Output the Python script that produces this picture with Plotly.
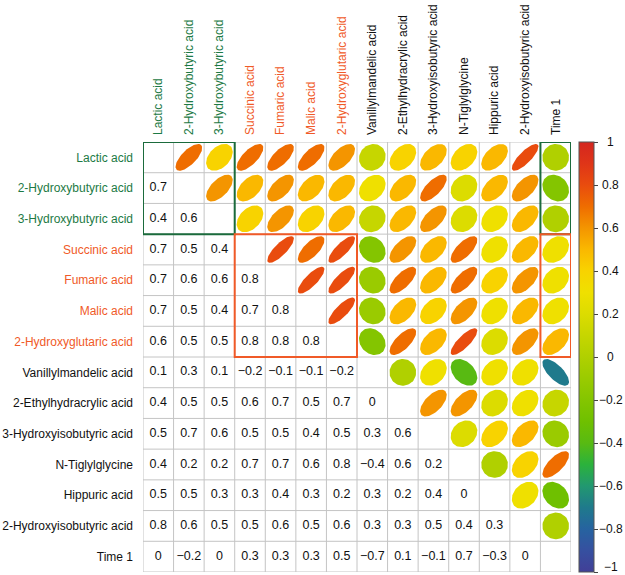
import numpy as np
import plotly.graph_objects as go

labels = ["Lactic acid", "2-Hydroxybutyric acid", "3-Hydroxybutyric acid",
          "Succinic acid", "Fumaric acid", "Malic acid", "2-Hydroxyglutaric acid",
          "Vanillylmandelic acid", "2-Ethylhydracrylic acid", "3-Hydroxyisobutyric acid",
          "N-Tiglylglycine", "Hippuric acid", "2-Hydroxyisobutyric acid", "Time 1"]

# lower triangle of the correlation matrix (row i, columns 0..i-1)
lower = [
    [],
    [0.7],
    [0.4, 0.6],
    [0.7, 0.5, 0.4],
    [0.7, 0.6, 0.6, 0.8],
    [0.7, 0.5, 0.4, 0.7, 0.8],
    [0.6, 0.5, 0.5, 0.8, 0.8, 0.8],
    [0.1, 0.3, 0.1, -0.2, -0.1, -0.1, -0.2],
    [0.4, 0.5, 0.5, 0.6, 0.7, 0.5, 0.7, 0.0],
    [0.5, 0.7, 0.6, 0.5, 0.5, 0.4, 0.5, 0.3, 0.6],
    [0.4, 0.2, 0.2, 0.7, 0.7, 0.6, 0.8, -0.4, 0.6, 0.2],
    [0.5, 0.5, 0.3, 0.3, 0.4, 0.3, 0.2, 0.3, 0.2, 0.4, 0.0],
    [0.8, 0.6, 0.5, 0.5, 0.6, 0.5, 0.6, 0.3, 0.3, 0.5, 0.4, 0.3],
    [0.0, -0.2, 0.0, 0.3, 0.3, 0.3, 0.5, -0.7, 0.1, -0.1, 0.7, -0.3, 0.0],
]

# label groups: (first index, last index, label colour, box colour)
groups = [(0, 2, "#1d7a45", "#1b6b3c"), (3, 6, "#f05a28", "#f05a28")]

cbar_ticks = [-1, -0.8, -0.6, -0.4, -0.2, 0, 0.2, 0.4, 0.6, 0.8, 1]

cs_vals = [-1.0, -0.9, -0.8, -0.7, -0.6, -0.5, -0.4, -0.3, -0.2, -0.1, 0.0,
           0.1, 0.2, 0.3, 0.4, 0.5, 0.6, 0.7, 0.8, 0.9, 1.0]
cs_cols = ["#413f97", "#3650a0", "#2663a0", "#1f7a8c", "#229870", "#2bb23c",
           "#58ba12", "#6fc000", "#84c500", "#9acb00", "#b0d000", "#c6d600",
           "#dcdc00", "#efe000", "#f8d300", "#fab800", "#f49500", "#ef6d00",
           "#e94c0e", "#df3518", "#d4261f"]

n = len(labels)
M = np.eye(n)
for i, row in enumerate(lower):
    for j, v in enumerate(row):
        M[i, j] = v
        M[j, i] = v


def hex2rgb(h):
    h = h.lstrip("#")
    return np.array([int(h[k:k + 2], 16) for k in (0, 2, 4)], dtype=float)


rgb_stops = np.array([hex2rgb(c) for c in cs_cols])


def colour(v):
    r = [np.interp(v, cs_vals, rgb_stops[:, k]) for k in range(3)]
    return "rgb(%d,%d,%d)" % tuple(int(round(c)) for c in r)


def fmt(v):
    s = ("%.1f" % v) if abs(v) > 1e-9 else "0"
    if s.endswith(".0"):
        s = s[:-2]
    return s.replace("-", "\u2212")


colorscale = [[(v + 1) / 2, c] for v, c in zip(cs_vals, cs_cols)]

FONT = "Liberation Sans, Arial, Helvetica, sans-serif"

fig = go.Figure()

# grid lines
gx, gy = [], []
for k in range(n + 1):
    p = k - 0.5
    gx += [-0.5, n - 0.5, None, p, p, None]
    gy += [p, p, None, -0.5, n - 0.5, None]
fig.add_trace(go.Scatter(x=gx, y=gy, mode="lines", line=dict(color="#c4c4c4", width=1),
                         hoverinfo="skip", showlegend=False))

# ellipses in upper triangle
scale = 0.87
t = np.linspace(0, 2 * np.pi, 72)
for i in range(n):
    for j in range(i + 1, n):
        r = M[i, j]
        d = np.arccos(np.clip(r, -1, 1))
        ex = j + scale * np.cos(t + d / 2) / 2
        ey = i - scale * np.cos(t - d / 2) / 2
        c = colour(r)
        fig.add_trace(go.Scatter(x=ex, y=ey, mode="lines", fill="toself", fillcolor=c,
                                 line=dict(width=0, color=c), hoverinfo="skip",
                                 showlegend=False))

# numbers in lower triangle
tx, ty, tt = [], [], []
for i, row in enumerate(lower):
    for j, v in enumerate(row):
        tx.append(j)
        ty.append(i)
        tt.append(fmt(v))
fig.add_trace(go.Scatter(x=tx, y=ty, text=tt, mode="text",
                         textfont=dict(size=12.5, color="#111111", family=FONT),
                         hoverinfo="skip", showlegend=False))

# colourbar carrier
fig.add_trace(go.Scatter(x=[0, 0], y=[0, 0], mode="markers",
                         marker=dict(size=0.1, opacity=0, color=[-1, 1], cmin=-1, cmax=1,
                                     colorscale=colorscale, showscale=True,
                                     colorbar=dict(x=1.0187, xanchor="left", xpad=0, ypad=0,
                                                   len=1.0, lenmode="fraction", y=0.5,
                                                   yanchor="middle", thickness=15,
                                                   title=dict(text="", side="right"),
                                                   outlinecolor="#555555", outlinewidth=1,
                                                   ticks="outside", ticklen=4,
                                                   tickcolor="#444444",
                                                   tickvals=cbar_ticks,
                                                   showticklabels=False)),
                         hoverinfo="skip", showlegend=False))

# colourbar tick labels, centred as in the reference
for v in cbar_ticks:
    fig.add_annotation(x=1.0923, xref="paper", y=(v + 1) / 2, yref="paper",
                       text=fmt(v), showarrow=False, xanchor="center", yanchor="middle",
                       yshift=5 if v == -1 else 0,
                       font=dict(size=12, color="#111111", family=FONT))

# group boxes
for a, b, _, bc in groups:
    fig.add_shape(type="rect", x0=a - 0.5, x1=b + 0.5, y0=a - 0.5, y1=b + 0.5,
                  line=dict(color=bc, width=2), layer="above")
    fig.add_shape(type="rect", x0=n - 1.5, x1=n - 0.5, y0=a - 0.5, y1=b + 0.5,
                  line=dict(color=bc, width=2), layer="above")


def tick_text(k):
    for a, b, lc, _ in groups:
        if a <= k <= b:
            return "<span style='color:%s'>%s</span>" % (lc, labels[k])
    return labels[k]


ticktext = [tick_text(k) for k in range(n)]

fig.update_layout(
    width=625, height=575,
    margin=dict(l=143, r=54, t=142, b=3),
    paper_bgcolor="white", plot_bgcolor="white",
    font=dict(family=FONT, size=12, color="#111111"),
    xaxis=dict(range=[-0.5, n - 0.5], side="top", tickvals=list(range(n)),
               ticktext=ticktext, tickangle=-90, showgrid=False, zeroline=False,
               showline=False, ticks="", ticklabelstandoff=6, automargin=False,
               tickfont=dict(size=12)),
    yaxis=dict(range=[n - 0.5, -0.5], tickvals=list(range(n)), ticktext=ticktext,
               showgrid=False, zeroline=False, showline=False, ticks="",
               ticklabelstandoff=9, automargin=False, tickfont=dict(size=12)),
)

fig.write_html("out.html", post_script="document.body.style.margin='0px';",
               config={"displayModeBar": False})
